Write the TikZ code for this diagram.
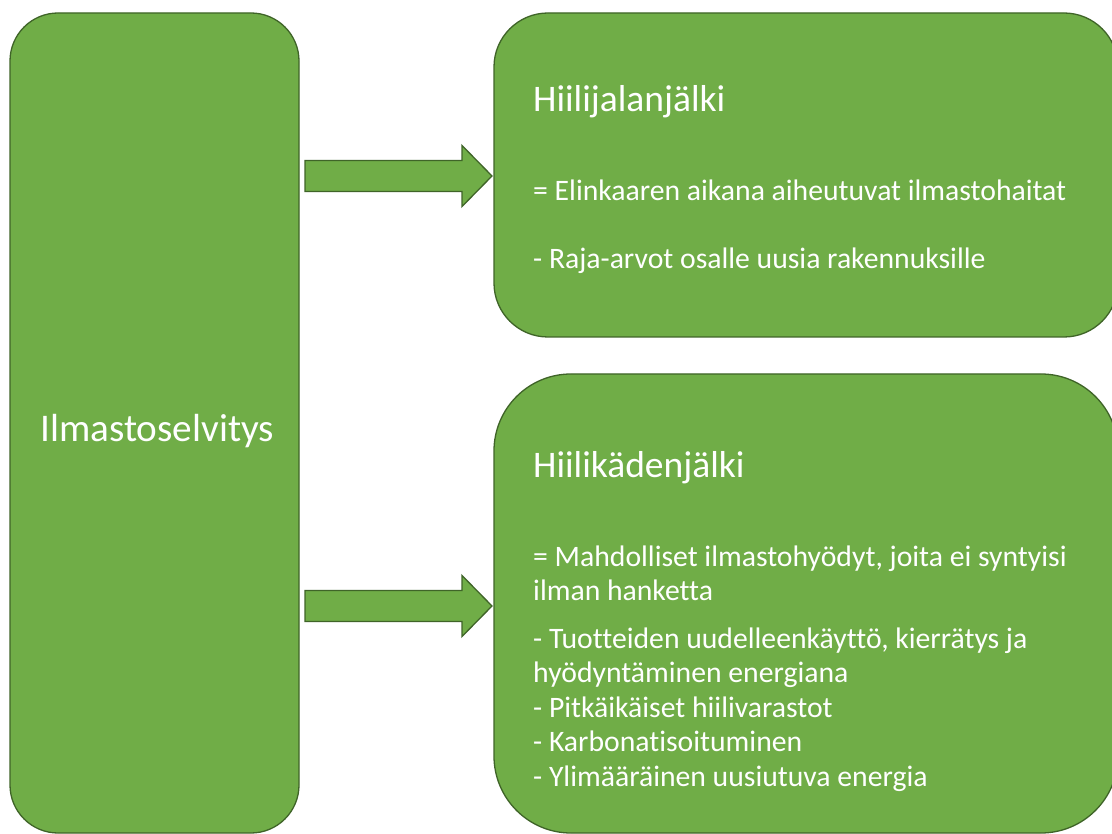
\documentclass[tikz,border=0pt]{standalone}
\usepackage{fontspec}
\setmainfont[Ligatures={NoCommon}]{Carlito}
\usetikzlibrary{calc}
\definecolor{boxfill}{HTML}{70AD47}
\definecolor{boxline}{HTML}{3F6428}
\begin{document}
\begin{tikzpicture}[x=1pt,y=-1pt,
  box/.style={draw=boxline, fill=boxfill, line width=1.3pt, rectangle, inner sep=0pt, outer sep=0pt},
  blockarrow/.style={draw=boxline, fill=boxfill, line width=1.3pt, line join=miter},
  title/.style={text=white, anchor=base west, inner sep=0pt, font=\fontsize{37.5}{44}\selectfont},
  body/.style={text=white, anchor=base west, inner sep=0pt, font=\fontsize{29.7}{34.5}\selectfont}]
\useasboundingbox (0,0) rectangle (1112,834);
\fill[white] (0,0) rectangle (1112,834);
% boxes
\node[box, minimum width=289pt, minimum height=820pt, rounded corners=48pt] (left) at (154.5,423) {};
\node[box, minimum width=624pt, minimum height=324pt, rounded corners=54pt] (top) at (806,175) {};
\node[box, minimum width=624pt, minimum height=459pt, rounded corners=77pt] (bot) at (806,603.5) {};
% block arrows
\coordinate (a1) at (305,176);
\coordinate (a2) at (305,606);
\foreach \c in {a1,a2}{
  \draw[blockarrow] ($(\c)+(0,-15.5)$) -- ++(157,0) -- ++(0,-15) -- ++(30,30.5) -- ++(-30,30.5) -- ++(0,-15) -- ++(-157,0) -- cycle;
}
% texts
\node[title, font=\fontsize{39.2}{44}\selectfont] (tl) at (40,442) {Ilmastoselvitys};
\node[title] (t1) at (533,112) {Hiilijalanjälki};
\node[body] (t1a) at (533,201) {= Elinkaaren aikana aiheutuvat ilmastohaitat};
\node[body] (t1b) at (533,269) {- Raja-arvot osalle uusia rakennuksille};
\node[title] (t2) at (533,478) {Hiilikädenjälki};
\node[body] (b1) at (533,566) {= Mahdolliset ilmastohyödyt, joita ei syntyisi};
\node[body] (b2) at (533,600.5) {ilman hanketta};
\node[body] (b3) at (533,648) {- Tuotteiden uudelleenkäyttö, kierrätys ja};
\node[body] (b4) at (533,682.5) {hyödyntäminen energiana};
\node[body] (b5) at (533,717) {- Pitkäikäiset hiilivarastot};
\node[body] (b6) at (533,751.5) {- Karbonatisoituminen};
\node[body] (b7) at (533,786) {- Ylimääräinen uusiutuva energia};
\end{tikzpicture}
\end{document}
